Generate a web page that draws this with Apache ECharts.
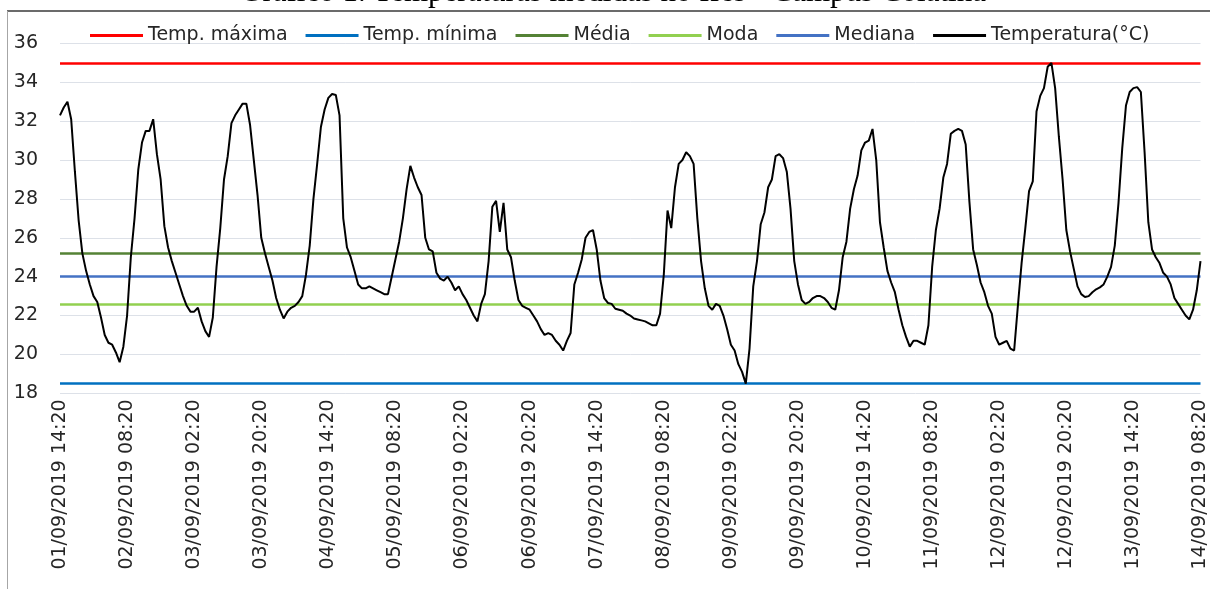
<!DOCTYPE html>
<html>
<head>
<meta charset="utf-8">
<script src="https://cdn.jsdelivr.net/npm/echarts@6/dist/echarts.min.js"></script>
<style>html,body{margin:0;padding:0;background:#fff;}#c{width:1210px;height:589px;}</style>
</head>
<body>
<div id="c"></div>
<script>
// ---- data ----
const titleText = 'Gráfico 1. Temperaturas medidas no Ifes - Campus Colatina';
const startLabel = '01/09/2019 14:20';
const seriesNames = ['Temp. máxima', 'Temp. mínima', 'Média', 'Moda', 'Mediana', 'Temperatura(°C)'];
const tempMax = 35.0;
const tempMin = 18.5;
const media = 25.2;
const moda = 22.6;
const mediana = 24.0;
// hourly temperature readings, 01/09/2019 14:20 -> 14/09/2019 08:20
const temperature = [
  32.3, 32.7, 33.0, 32.1, 29.4, 26.9, 25.2, 24.3, 23.6, 23.0, 22.7, 21.9, 21.0, 20.6, 20.5, 20.1, 19.6, 20.4,
  22.0, 25.0, 27.0, 29.5, 30.9, 31.5, 31.5, 32.1, 30.3, 29.0, 26.6, 25.5, 24.8, 24.2, 23.6, 23.0, 22.5, 22.2,
  22.2, 22.4, 21.7, 21.2, 20.9, 21.9, 24.5, 26.5, 29.0, 30.2, 31.9, 32.3, 32.6, 32.9, 32.9, 31.8, 30.0, 28.2,
  26.0, 25.2, 24.5, 23.8, 22.9, 22.3, 21.85, 22.2, 22.4, 22.5, 22.7, 23.0, 24.1, 25.6, 28.0, 29.8, 31.7, 32.6,
  33.2, 33.4, 33.35, 32.3, 27.0, 25.5, 25.0, 24.3, 23.6, 23.4, 23.4, 23.5, 23.4, 23.3, 23.2, 23.1, 23.1, 24.0,
  24.9, 25.8, 27.0, 28.5, 29.7, 29.1, 28.6, 28.2, 26.0, 25.4, 25.3, 24.2, 23.9, 23.8, 24.0, 23.7, 23.3, 23.5,
  23.1, 22.8, 22.4, 22.0, 21.7, 22.6, 23.1, 24.8, 27.6, 27.9, 26.3, 27.8, 25.4, 25.0, 23.8, 22.8, 22.5, 22.4,
  22.3, 22.0, 21.7, 21.3, 21.0, 21.1, 21.0, 20.7, 20.5, 20.2, 20.7, 21.1, 23.6, 24.2, 24.9, 26.0, 26.3, 26.4,
  25.4, 23.8, 22.9, 22.65, 22.6, 22.35, 22.3, 22.25, 22.1, 22.0, 21.85, 21.8, 21.75, 21.7, 21.6, 21.5, 21.5, 22.1,
  24.1, 27.4, 26.5, 28.6, 29.8, 30.0, 30.4, 30.2, 29.8, 27.0, 24.8, 23.4, 22.5, 22.3, 22.6, 22.5, 22.0, 21.3,
  20.5, 20.2, 19.5, 19.1, 18.5, 20.3, 23.5, 24.8, 26.7, 27.3, 28.6, 29.0, 30.2, 30.3, 30.1, 29.4, 27.5, 24.8,
  23.6, 22.8, 22.6, 22.7, 22.9, 23.0, 23.0, 22.9, 22.7, 22.4, 22.3, 23.3, 25.0, 25.8, 27.5, 28.5, 29.2, 30.5,
  30.9, 31.0, 31.6, 30.0, 26.8, 25.5, 24.3, 23.7, 23.2, 22.3, 21.5, 20.9, 20.4, 20.7, 20.7, 20.6, 20.5, 21.5,
  24.5, 26.4, 27.5, 29.1, 29.8, 31.35, 31.5, 31.6, 31.5, 30.8, 27.85, 25.4, 24.6, 23.7, 23.2, 22.5, 22.1, 20.9,
  20.5, 20.6, 20.7, 20.3, 20.2, 22.5, 24.7, 26.5, 28.4, 28.9, 32.5, 33.3, 33.7, 34.8, 35.0, 33.7, 31.2, 29.0,
  26.4, 25.3, 24.4, 23.5, 23.1, 22.95, 23.0, 23.2, 23.35, 23.45, 23.6, 24.0, 24.5, 25.6, 27.8, 30.6, 32.8, 33.5,
  33.7, 33.75, 33.5, 30.4, 26.8, 25.4, 25.0, 24.7, 24.2, 24.0, 23.6, 22.9, 22.6, 22.3, 22.0, 21.8, 22.3, 23.3,
  24.8
];
const yTicks = { min: 18, max: 36, step: 2 };

// ---- hourly category labels ----
function pad(n){ return (n < 10 ? '0' : '') + n; }
const categories = (function(){
  const p = startLabel.match(/(\d+)\/(\d+)\/(\d+) (\d+):(\d+)/);
  const t0 = Date.UTC(+p[3], +p[2]-1, +p[1], +p[4], +p[5]);
  const out = [];
  for (let i = 0; i < temperature.length; i++) {
    const d = new Date(t0 + i * 3600000);
    out.push(pad(d.getUTCDate()) + '/' + pad(d.getUTCMonth()+1) + '/' + d.getUTCFullYear() + ' ' +
             pad(d.getUTCHours()) + ':' + pad(d.getUTCMinutes()));
  }
  return out;
})();

const FONT = 'DejaVu Sans';
const chart = echarts.init(document.getElementById('c'), null, { renderer: 'canvas' });

function refLine(name, value, color) {
  return {
    name: name, type: 'line', data: [], color: color, symbol: 'none', z: 2,
    lineStyle: { color: color, width: 2.5 },
    markLine: {
      silent: true, symbol: ['none', 'none'], animation: false,
      label: { show: false },
      lineStyle: { color: color, width: 2.5, type: 'solid' },
      emphasis: { disabled: true },
      data: [{ yAxis: value }]
    }
  };
}

chart.setOption({
  animation: false,
  backgroundColor: '#ffffff',
  graphic: [
    { type: 'text', x: 613, y: -7, silent: true,
      style: { text: titleText, font: '31px "Liberation Serif"', fill: '#000',
               align: 'center', verticalAlign: 'middle', textAlign: 'center', textVerticalAlign: 'middle' } },
    { type: 'line', silent: true, shape: { x1: 7, y1: 11, x2: 1210, y2: 11 },
      style: { stroke: '#6b6b6b', lineWidth: 2 } },
    { type: 'line', silent: true, shape: { x1: 7.5, y1: 11, x2: 7.5, y2: 589 },
      style: { stroke: '#a6a6a6', lineWidth: 1 } }
  ],
  legend: {
    data: seriesNames,
    left: 85, top: 21,
    icon: 'rect', itemWidth: 53, itemHeight: 3, itemGap: 18,
    textStyle: { fontFamily: FONT, fontSize: 19, color: '#262626' },
    selectedMode: false
  },
  grid: { left: 60, right: 6, top: 43.4, bottom: 195.7, containLabel: false },
  xAxis: {
    type: 'category', data: categories, boundaryGap: false,
    axisLine: { show: false }, axisTick: { show: false },
    splitLine: { show: false },
    axisLabel: { interval: 17, rotate: 90, margin: 6, fontFamily: FONT, fontSize: 19, color: '#262626' }
  },
  yAxis: {
    type: 'value', min: yTicks.min, max: yTicks.max, interval: yTicks.step,
    axisLine: { show: false }, axisTick: { show: false },
    axisLabel: { margin: 22, fontFamily: FONT, fontSize: 19, color: '#262626' },
    splitLine: { lineStyle: { color: '#dde1e8', width: 1 } }
  },
  series: [
    refLine(seriesNames[0], tempMax, '#ff0000'),
    refLine(seriesNames[1], tempMin, '#0070c0'),
    refLine(seriesNames[2], media, '#548235'),
    refLine(seriesNames[3], moda, '#92d050'),
    refLine(seriesNames[4], mediana, '#4472c4'),
    {
      name: seriesNames[5], type: 'line', data: temperature, color: '#000000',
      symbol: 'none', showSymbol: false, z: 5,
      lineStyle: { color: '#000000', width: 2 },
      emphasis: { disabled: true }
    }
  ]
});
</script>
</body>
</html>
